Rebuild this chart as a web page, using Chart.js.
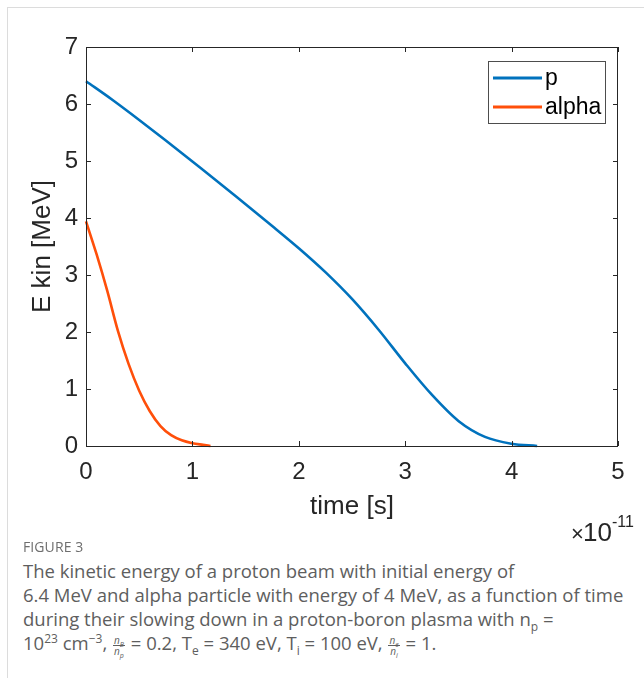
<!DOCTYPE html>
<html>
<head>
<meta charset="utf-8">
<script src="https://cdn.jsdelivr.net/npm/chart.js@4"></script>
<style>
    body { margin: 0; width: 644px; height: 678px; overflow: hidden; background: #fff; position: relative; }
    .frame { position: absolute; left: 7px; top: 7px; width: 700px; height: 700px; border-left: 1px solid #dcdcdc; border-top: 1px solid #dcdcdc; }
    #wrap { position: absolute; left: 0; top: 0; width: 644px; height: 550px; }
    .fig { position: absolute; left: 23px; top: 537px; font-family: "Open Sans", sans-serif; font-size: 14px; color: #6e6e6e; letter-spacing: 0.1px; }
    .cap { position: absolute; left: 23px; top: 559px; font-family: "Open Sans", sans-serif; font-size: 18.5px; line-height: 24px; color: #5e5e5e; white-space: nowrap; }
    .cap sub, .cap sup { font-size: 12px; line-height: 0; }
    .frac { display: inline-block; vertical-align: middle; text-align: center; font-size: 10px; line-height: 10px; font-style: italic; margin: 0 1px; }
    .frac span { display: block; padding: 0 1px; }
    .frac span:first-child { border-bottom: 1px solid #5e5e5e; }
</style>
</head>
<body>
<div class="frame"></div>
<div id="wrap"><canvas id="myChart"></canvas></div>
<div class="fig">FIGURE 3</div>
<div class="cap">The kinetic energy of a proton beam with initial energy of<br>6.4 MeV and alpha particle with energy of 4 MeV, as a function of time<br>during their slowing down in a proton-boron plasma with n<sub>p</sub> =<br>10<sup>23</sup> cm<sup>−3</sup>, <span class="frac"><span>n<sub style="font-size:7px">B</sub></span><span>n<sub style="font-size:7px">p</sub></span></span> = 0.2, T<sub>e</sub> = 340 eV, T<sub>i</sub> = 100 eV, <span class="frac"><span>n<sub style="font-size:7px">e</sub></span><span>n<sub style="font-size:7px">i</sub></span></span> = 1.</div>
<script>
// time in units of 1e-11 s, energy in MeV
var protonTime = [0, 0.25, 0.5, 0.75, 1.0, 1.25, 1.5, 1.75, 2.0, 2.25, 2.5, 2.75, 3.0, 3.25, 3.5, 3.75, 4.0, 4.24];
var protonE = [6.40, 6.07, 5.72, 5.36, 4.99, 4.62, 4.24, 3.86, 3.47, 3.05, 2.58, 2.04, 1.45, 0.90, 0.44, 0.16, 0.04, 0.0];
var alphaTime = [0, 0.1, 0.2, 0.3, 0.4, 0.5, 0.6, 0.7, 0.8, 0.9, 1.0, 1.1, 1.17];
var alphaE = [3.94, 3.36, 2.72, 2.02, 1.44, 0.97, 0.61, 0.35, 0.19, 0.10, 0.05, 0.02, 0.0];
var xTicks = [0, 1, 2, 3, 4, 5];
var yTicks = [0, 1, 2, 3, 4, 5, 6, 7];
var seriesNames = ['p', 'alpha'];

var axisColor = '#262626';
var tickFont = { family: 'Liberation Sans, Arial, sans-serif', size: 24 };

function toPoints(xs, ys) {
    return xs.map(function(x, i) { return { x: x, y: ys[i] }; });
}

// MATLAB style box with inward ticks, legend and exponent label
var matlabBox = {
    id: 'matlabBox',
    afterDraw: function(chart) {
        var ctx = chart.ctx;
        var xs = chart.scales.x, ys = chart.scales.y;
        var a = chart.chartArea;
        ctx.save();
        ctx.strokeStyle = axisColor;
        ctx.lineWidth = 1;
        ctx.beginPath();
        ctx.rect(a.left + 0.5, a.top + 0.5, a.right - a.left - 1, a.bottom - a.top);
        xTicks.forEach(function(v) {
            var px = Math.round(xs.getPixelForValue(v)) + 0.5;
            ctx.moveTo(px, a.bottom); ctx.lineTo(px, a.bottom - 5);
            ctx.moveTo(px, a.top); ctx.lineTo(px, a.top + 5);
        });
        yTicks.forEach(function(v) {
            var py = Math.round(ys.getPixelForValue(v)) + 0.5;
            ctx.moveTo(a.left, py); ctx.lineTo(a.left + 5, py);
            ctx.moveTo(a.right, py); ctx.lineTo(a.right - 5, py);
        });
        ctx.stroke();

        // legend
        var lx = a.right - 130, ly = a.top + 14, lw = 117, lh = 62;
        ctx.fillStyle = '#fff';
        ctx.fillRect(lx, ly, lw, lh);
        ctx.strokeStyle = '#4d4d4d';
        ctx.strokeRect(lx + 0.5, ly + 0.5, lw, lh);
        ctx.font = '23px "Liberation Sans", Arial, sans-serif';
        ctx.textBaseline = 'middle';
        chart.data.datasets.forEach(function(ds, i) {
            var yy = ly + 17 + i * 29;
            ctx.strokeStyle = ds.borderColor;
            ctx.lineWidth = 3;
            ctx.beginPath();
            ctx.moveTo(lx + 5, yy); ctx.lineTo(lx + 54, yy);
            ctx.stroke();
            ctx.fillStyle = '#000';
            ctx.fillText(ds.label, lx + 57, yy + 1);
        });

        // x exponent
        ctx.fillStyle = axisColor;
        ctx.textBaseline = 'alphabetic';
        ctx.font = '22px "Liberation Sans", Arial, sans-serif';
        ctx.fillText('\u00d7', a.right - 47, 541);
        ctx.font = '26px "Liberation Sans", Arial, sans-serif';
        ctx.fillText('10', a.right - 35, 541);
        ctx.font = '16px "Liberation Sans", Arial, sans-serif';
        ctx.fillText('-11', a.right - 6, 527);
        ctx.restore();
    }
};

var ctx = document.getElementById('myChart').getContext('2d');
var myChart = new Chart(ctx, {
    type: 'line',
    data: {
        datasets: [{
            label: seriesNames[0],
            data: toPoints(protonTime, protonE),
            borderColor: '#0072BD',
            borderWidth: 2.6,
            pointRadius: 0,
            cubicInterpolationMode: 'monotone',
            fill: false
        }, {
            label: seriesNames[1],
            data: toPoints(alphaTime, alphaE),
            borderColor: '#FF4F0A',
            borderWidth: 2.6,
            pointRadius: 0,
            cubicInterpolationMode: 'monotone',
            fill: false
        }]
    },
    options: {
        responsive: true,
        maintainAspectRatio: false,
        animation: false,
        clip: false,
        layout: {
            padding: { left: 27, right: 26, top: 47, bottom: 0 }
        },
        plugins: {
            legend: { display: false },
            tooltip: { enabled: false }
        },
        scales: {
            x: {
                type: 'linear',
                min: 0,
                max: 5,
                afterFit: function(scale) { scale.height = 104; },
                afterBuildTicks: function(scale) { scale.ticks = xTicks.map(function(v) { return { value: v }; }); },
                grid: { display: false, drawTicks: false },
                border: { display: false },
                ticks: { color: axisColor, font: tickFont, padding: 12, maxRotation: 0 },
                title: {
                    display: true,
                    text: 'time [s]',
                    color: axisColor,
                    font: { family: 'Liberation Sans, Arial, sans-serif', size: 26 },
                    padding: { top: 0, bottom: 28 }
                }
            },
            y: {
                min: 0,
                max: 7,
                afterFit: function(scale) { scale.width = 59; },
                afterBuildTicks: function(scale) { scale.ticks = yTicks.map(function(v) { return { value: v }; }); },
                grid: { display: false, drawTicks: false },
                border: { display: false },
                ticks: { color: axisColor, font: tickFont, padding: 8 },
                title: {
                    display: true,
                    text: 'E kin [MeV]',
                    color: axisColor,
                    font: { family: 'Liberation Sans, Arial, sans-serif', size: 26 },
                    padding: { top: 0, bottom: 0 }
                }
            }
        }
    },
    plugins: [matlabBox]
});
</script>
</body>
</html>
